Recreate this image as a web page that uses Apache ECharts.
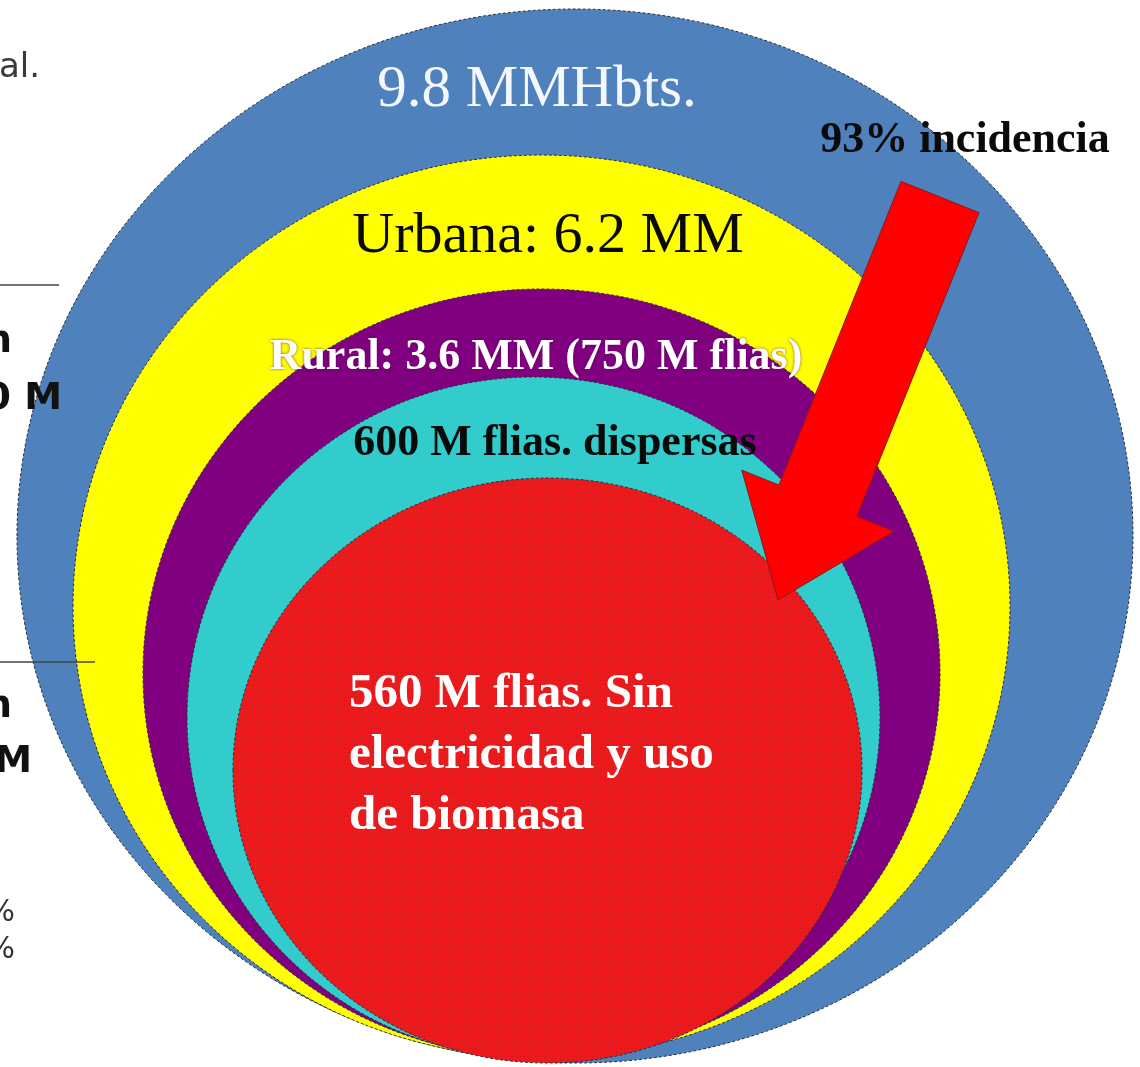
<!DOCTYPE html>
<html>
<head>
<meta charset="utf-8">
<script src="https://cdn.jsdelivr.net/npm/echarts@6/dist/echarts.min.js"></script>
<style>
  html, body { margin: 0; padding: 0; background: #ffffff; }
  #chart { width: 1140px; height: 1067px; }
</style>
</head>
<body>
<div id="chart"></div>
<script>
// ---- Figures shown in the nested rings ----
const populationMM = [9.8, 6.2, 3.6];   // total, urban, rural inhabitants (millions)
const familiesM = [750, 600, 560];      // rural, dispersed, without electricity (thousand families)
const incidencePct = 93;

const ringNames = ['Total', 'Urbana', 'Rural', 'Dispersas', 'Sin electricidad'];
const ringLabels = [
  populationMM[0] + ' MMHbts.',
  'Urbana: ' + populationMM[1] + ' MM',
  'Rural: ' + populationMM[2] + ' MM (' + familiesM[0] + ' M flias)',
  familiesM[1] + ' M flias. dispersas',
  familiesM[2] + ' M flias. Sin\nelectricidad y uso\nde biomasa'
];
const incidenceLabel = incidencePct + '% incidencia';

// ---- Layout units (the plane spans 0..1140 x 0..1067, y downwards) ----
const ringLeft   = [17, 73, 143, 187, 233];
const ringRight  = [1133, 1010, 940, 880, 862];
const ringTop    = [9, 155, 289, 377, 478];
const ringBottom = [1063, 1058, 1058, 1058, 1063];

const labelX = [537, 548, 536, 555, 349];
const labelY = [90, 237, 358, 444, 664];

const arrowTail = [940, 197];
const arrowTip = [778, 600];
const incidenceAt = [965, 141];

// Fragments of neighbouring slide text cut by the left edge
const sideTexts = ['al.', 'n', '0 M', 'n', 'M', '%', '%'];
const sideTextRight = [40, 12, 62, 12, 32, 15, 15];
const sideTextY = [68, 342, 399, 707, 762, 913, 950];
const sideRules = [[0, 59, 285], [0, 95, 662]];

// ---- Styles ----
const ringColors = ['#4f81bd', '#ffff00', '#800080', '#33cccc', '#ff0000'];
const labelColors = ['#f4f7ff', '#0a0a0a', '#ffffff', '#0a0a0a', '#ffffff'];
const labelFonts = [
  '59px "Liberation Serif", "Times New Roman", serif',
  '58px "Liberation Serif", "Times New Roman", serif',
  'bold 44px "Liberation Serif", "Times New Roman", serif',
  'bold 44px "Liberation Serif", "Times New Roman", serif',
  'bold 49px "Liberation Serif", "Times New Roman", serif'
];
const labelAlign = ['center', 'center', 'center', 'center', 'left'];
const sideFonts = [
  '34px "DejaVu Sans", Verdana, sans-serif',
  'bold 38px "DejaVu Sans", Verdana, sans-serif',
  'bold 38px "DejaVu Sans", Verdana, sans-serif',
  'bold 38px "DejaVu Sans", Verdana, sans-serif',
  'bold 38px "DejaVu Sans", Verdana, sans-serif',
  '30px "DejaVu Sans", Verdana, sans-serif',
  '30px "DejaVu Sans", Verdana, sans-serif'
];
const sideColors = ['#3a3a3a', '#111111', '#111111', '#111111', '#111111', '#333333', '#333333'];

// fine checkered texture of the innermost disc
function gridTexture() {
  const c = document.createElement('canvas');
  c.width = 4; c.height = 4;
  const g = c.getContext('2d');
  g.fillStyle = '#ff1414';
  g.fillRect(0, 0, 4, 4);
  g.fillStyle = 'rgba(170,40,50,0.28)';
  g.fillRect(0, 0, 4, 1);
  g.fillRect(0, 0, 1, 4);
  return c;
}
const redTexture = gridTexture();

const ringData = ringNames.map((n, i) => ({
  name: n,
  value: [
    (ringLeft[i] + ringRight[i]) / 2,
    (ringTop[i] + ringBottom[i]) / 2,
    (ringRight[i] - ringLeft[i]) / 2,
    (ringBottom[i] - ringTop[i]) / 2
  ]
}));

const labelData = ringLabels.map((t, i) => ({ name: t, value: [labelX[i], labelY[i]] }));
const sideData = sideTexts.map((t, i) => ({ name: t, value: [sideTextRight[i], sideTextY[i]] }));

const chart = echarts.init(document.getElementById('chart'), null, { renderer: 'canvas' });

chart.setOption({
  backgroundColor: '#ffffff',
  animation: false,
  grid: { left: 0, right: 0, top: 0, bottom: 0 },
  xAxis: { type: 'value', min: 0, max: 1140, show: false },
  yAxis: { type: 'value', min: 0, max: 1067, inverse: true, show: false },
  series: [
    {
      name: 'rings',
      type: 'custom',
      z: 1,
      data: ringData,
      renderItem: function (params, api) {
        const i = params.dataIndex;
        const c = api.coord([api.value(0), api.value(1)]);
        const s = api.size([api.value(2), api.value(3)]);
        return {
          type: 'ellipse',
          shape: { cx: c[0], cy: c[1], rx: s[0], ry: s[1] },
          style: {
            fill: i === 4 ? { image: redTexture, repeat: 'repeat' } : ringColors[i],
            stroke: '#2a2f3c',
            lineWidth: 1,
            lineDash: [3, 2]
          }
        };
      }
    },
    {
      name: 'arrow',
      type: 'custom',
      z: 2,
      data: [[arrowTail[0], arrowTail[1], arrowTip[0], arrowTip[1]]],
      renderItem: function (params, api) {
        const a = api.coord([api.value(0), api.value(1)]);
        const b = api.coord([api.value(2), api.value(3)]);
        const dx = a[0] - b[0], dy = a[1] - b[1];
        const len = Math.sqrt(dx * dx + dy * dy);
        const ux = dx / len, uy = dy / len;     // from tip back to tail
        const px = -uy, py = ux;                // perpendicular
        const shaftHalf = 42, headHalf = 82, headLen = 107;
        const hb = [b[0] + ux * headLen, b[1] + uy * headLen];
        const pts = [
          [a[0] + px * shaftHalf, a[1] + py * shaftHalf],
          [hb[0] + px * shaftHalf, hb[1] + py * shaftHalf],
          [hb[0] + px * headHalf, hb[1] + py * headHalf],
          [b[0], b[1]],
          [hb[0] - px * headHalf, hb[1] - py * headHalf],
          [hb[0] - px * shaftHalf, hb[1] - py * shaftHalf],
          [a[0] - px * shaftHalf, a[1] - py * shaftHalf]
        ];
        return {
          type: 'polygon',
          shape: { points: pts },
          style: { fill: '#ff0000', stroke: '#8a1a1a', lineWidth: 1 }
        };
      }
    },
    {
      name: 'labels',
      type: 'custom',
      z: 3,
      data: labelData,
      renderItem: function (params, api) {
        const i = params.dataIndex;
        const p = api.coord([api.value(0), api.value(1)]);
        const glow = i === 2;
        return {
          type: 'text',
          x: p[0],
          y: p[1],
          style: {
            text: ringLabels[i],
            fill: labelColors[i],
            font: labelFonts[i],
            align: labelAlign[i],
            verticalAlign: i === 4 ? 'top' : 'middle',
            lineHeight: 61,
            textShadowColor: glow ? 'rgba(80,0,80,0.7)' : 'transparent',
            textShadowBlur: glow ? 3 : 0
          }
        };
      }
    },
    {
      name: 'incidence',
      type: 'custom',
      z: 3,
      data: [incidenceAt],
      renderItem: function (params, api) {
        const p = api.coord([api.value(0), api.value(1)]);
        return {
          type: 'text',
          x: p[0],
          y: p[1],
          style: {
            text: incidenceLabel,
            fill: '#0a0a0a',
            font: 'bold 44px "Liberation Serif", "Times New Roman", serif',
            align: 'center',
            verticalAlign: 'middle'
          }
        };
      }
    },
    {
      name: 'side notes',
      type: 'custom',
      z: 3,
      data: sideData,
      renderItem: function (params, api) {
        const i = params.dataIndex;
        const p = api.coord([api.value(0), api.value(1)]);
        return {
          type: 'text',
          x: p[0],
          y: p[1],
          style: {
            text: sideTexts[i],
            fill: sideColors[i],
            font: sideFonts[i],
            align: 'right',
            verticalAlign: 'middle'
          }
        };
      }
    },
    {
      name: 'side rules',
      type: 'custom',
      z: 3,
      data: sideRules,
      renderItem: function (params, api) {
        const a = api.coord([api.value(0), api.value(2)]);
        const b = api.coord([api.value(1), api.value(2)]);
        return {
          type: 'line',
          shape: { x1: a[0], y1: a[1], x2: b[0], y2: b[1] },
          style: { stroke: '#444444', lineWidth: 1.5 }
        };
      }
    }
  ]
});
</script>
</body>
</html>
